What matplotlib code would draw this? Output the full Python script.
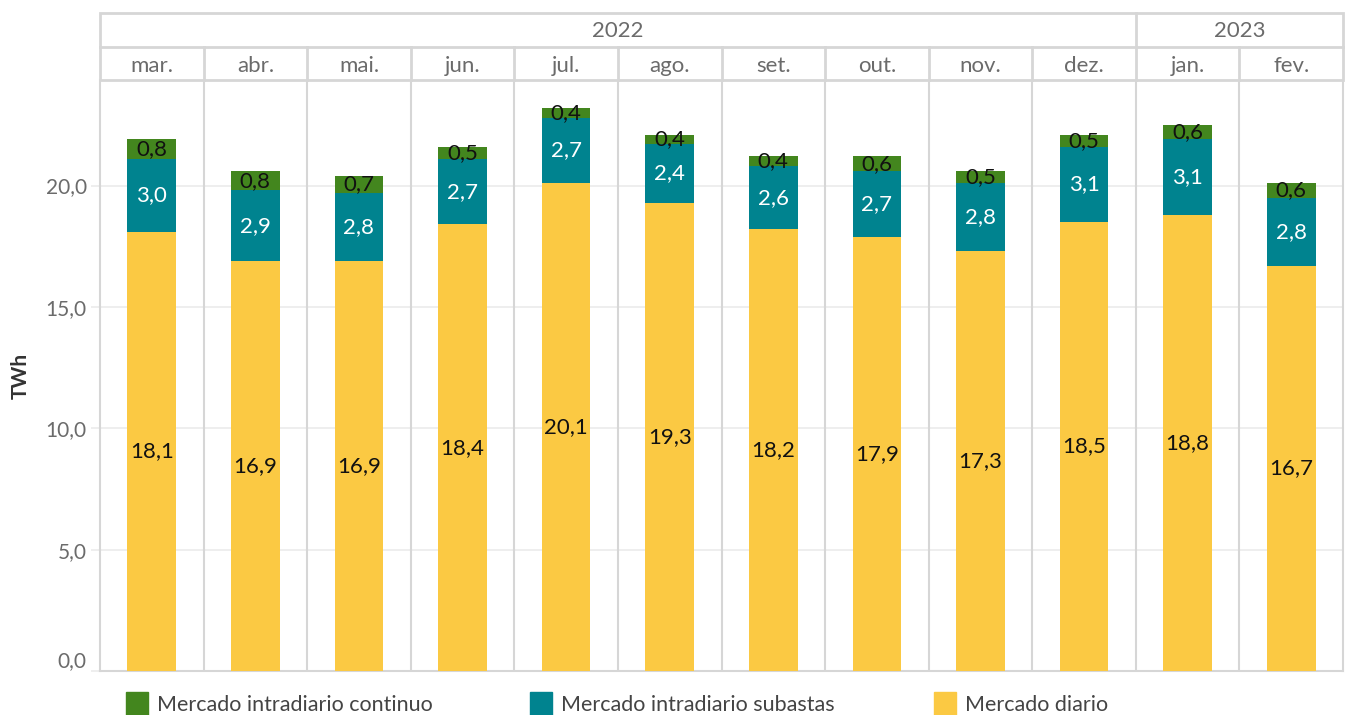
import matplotlib.pyplot as plt
from matplotlib.patches import Rectangle

plt.rcParams['font.family'] = ['Lato', 'DejaVu Sans']

# data
months = ['mar.', 'abr.', 'mai.', 'jun.', 'jul.', 'ago.', 'set.', 'out.', 'nov.', 'dez.', 'jan.', 'fev.']
years = ['2022', '2023']
year_spans = [10, 2]
diario = [18.1, 16.9, 16.9, 18.4, 20.1, 19.3, 18.2, 17.9, 17.3, 18.5, 18.8, 16.7]
subastas = [3.0, 2.9, 2.8, 2.7, 2.7, 2.4, 2.6, 2.7, 2.8, 3.1, 3.1, 2.8]
continuo = [0.8, 0.8, 0.7, 0.5, 0.4, 0.4, 0.4, 0.6, 0.5, 0.5, 0.6, 0.6]
series_names = ['Mercado intradiario continuo', 'Mercado intradiario subastas', 'Mercado diario']
yticks = [0, 5, 10, 15, 20]

c_yellow = '#fbc943'
c_teal = '#00838f'
c_green = '#43861e'
c_border = '#d6d6d6'
c_grid = '#ebebeb'
c_text = '#6b6b6b'

W, H = 1351, 715
fig = plt.figure(figsize=(W / 100, H / 100), dpi=100)

left, right = 100 / W, 1343 / W
ax = fig.add_axes([left, (H - 671) / H, right - left, (671 - 80) / H])
hx = fig.add_axes([left, (H - 80) / H, right - left, (80 - 13) / H])

n = len(months)
x = [i + 0.5 for i in range(n)]
bw = 0.47

ax.bar(x, diario, bw, color=c_yellow, zorder=3)
ax.bar(x, subastas, bw, bottom=diario, color=c_teal, zorder=3)
tot2 = [a + b for a, b in zip(diario, subastas)]
ax.bar(x, continuo, bw, bottom=tot2, color=c_green, zorder=3)

fmt = lambda v: f'{v:.1f}'.replace('.', ',')
fs = 16
for i in range(n):
    ax.text(x[i], diario[i] / 2, fmt(diario[i]), ha='center', va='center', fontsize=fs, color='#111111', zorder=4)
    ax.text(x[i], diario[i] + subastas[i] / 2, fmt(subastas[i]), ha='center', va='center', fontsize=fs, color='white', zorder=4)
    ax.text(x[i], tot2[i] + continuo[i] / 2, fmt(continuo[i]), ha='center', va='center', fontsize=fs, color='#111111', zorder=4)

ax.set_xlim(0, n)
ax.set_ylim(0, 24.35)
ax.set_xticks([])
ax.set_yticks(yticks)
ax.set_yticklabels([fmt(v) for v in yticks], fontsize=15, color=c_text)
ax.get_yticklabels()[0].set_va('bottom')
ax.tick_params(axis='y', length=6.5, color=c_grid, width=1.2, pad=3)
for y in yticks:
    ax.axhline(y, color=c_grid, lw=1.2, zorder=1)
for i in range(1, n):
    ax.axvline(i, color=c_border, lw=1.5, zorder=2)
ax.spines['top'].set_visible(False)
for s in ['left', 'right', 'bottom']:
    ax.spines[s].set_color(c_border)
    ax.spines[s].set_linewidth(1.5)
ax.set_ylabel('TWh', fontsize=15, color='#333333', fontweight='bold', labelpad=11)

# header
hx.set_xlim(0, n)
hx.set_ylim(0, 2)
hx.axis('off')
hx.add_patch(Rectangle((0, 0), n, 2, fill=False, ec=c_border, lw=2, clip_on=False))
hx.plot([0, n], [1, 1], color=c_border, lw=2, clip_on=False)
for i in range(1, n):
    hx.plot([i, i], [0, 1], color=c_border, lw=2, clip_on=False)
start = 0
for yr, span in zip(years, year_spans):
    if start > 0:
        hx.plot([start, start], [1, 2], color=c_border, lw=2, clip_on=False)
    hx.text(start + span / 2, 1.45, yr, ha='center', va='center', fontsize=16, color=c_text)
    start += span
for i, m in enumerate(months):
    hx.text(x[i], 0.43, m, ha='center', va='center', fontsize=16, color=c_text)

# legend
colors = [c_green, c_teal, c_yellow]
for k, (name, c) in enumerate(zip(series_names, colors)):
    x0 = 126 + k * 404
    fig.add_artist(Rectangle((x0 / W, 0), 22 / W, 23 / H, color=c, transform=fig.transFigure))
    fig.text((x0 + 31) / W, 10 / H, name, ha='left', va='center', fontsize=15.5, color='#444444')

fig.savefig('out.png', dpi=100)
